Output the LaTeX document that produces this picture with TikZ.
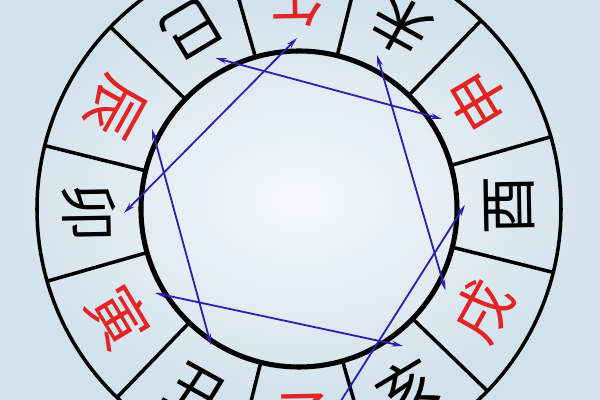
\documentclass[tikz,border=0pt]{standalone}
\usepackage{fontspec}
\newfontfamily\cjk{Noto Sans CJK SC}
\usetikzlibrary{arrows.meta}

\definecolor{poblue}{RGB}{48,32,170}
\definecolor{zhired}{RGB}{226,36,36}
\definecolor{paper}{RGB}{210,226,236}
\definecolor{paperlight}{RGB}{246,249,251}

\tikzset{
  zhi/.style={font=\cjk\fontsize{42}{42}\selectfont, inner sep=0pt},
  yangzhi/.style={zhi, text=zhired},
  yinzhi/.style={zhi, text=black},
  divider/.style={line width=2.5pt},
  po/.style={arrows={Stealth[length=8pt,width=4pt]-Stealth[length=8pt,width=4pt]}, line width=1.3pt, draw=poblue}
}

\begin{document}
\begin{tikzpicture}[x=0.025cm,y=0.025cm]

\useasboundingbox (-299,-191) rectangle (301,209);
\clip (-299,-191) rectangle (301,209);

\coordinate (RingCenter) at (0,0);

	% paper
	\shade[inner color=paperlight, outer color=paper] (-299,-191) rectangle (301,209);

	% outer and inner ring
	\draw[line width=2.5pt] (RingCenter) circle (262);
	\draw[line width=3.6pt] (RingCenter) circle (158);

	% ring dividers
	\draw[divider] (16:158) -- (16:262);
	\draw[divider] (46:158) -- (46:262);
	\draw[divider] (76:158) -- (76:262);
	\draw[divider] (106:158) -- (106:262);
	\draw[divider] (136:158) -- (136:262);
	\draw[divider] (166:158) -- (166:262);
	\draw[divider] (196:158) -- (196:262);
	\draw[divider] (226:158) -- (226:262);
	\draw[divider] (256:158) -- (256:262);
	\draw[divider] (286:158) -- (286:262);
	\draw[divider] (316:158) -- (316:262);
	\draw[divider] (346:158) -- (346:262);

	% twelve branches, tops toward the centre
	\node[yangzhi, rotate=181] (Wu)   at (91:210)  {午};
	\node[yinzhi,  rotate=151] (Wei)  at (61:210)  {未};
	\node[yangzhi, rotate=121] (Shen) at (31:210)  {申};
	\node[yinzhi,  rotate=91]  (You)  at (1:210)   {酉};
	\node[yangzhi, rotate=61]  (Xu)   at (-29:210) {戌};
	\node[yinzhi,  rotate=31]  (Hai)  at (-59:210) {亥};
	\node[yangzhi, rotate=1]   (Zi)   at (-89:210) {子};
	\node[yinzhi,  rotate=-29] (Chou) at (-119:210) {丑};
	\node[yangzhi, rotate=-59] (Yin)  at (-149:210) {寅};
	\node[yinzhi,  rotate=-89] (Mao)  at (181:210) {卯};
	\node[yangzhi, rotate=-119] (Chen) at (151:210) {辰};
	\node[yinzhi,  rotate=-149] (Si)  at (121:210) {巳};

	% arrow ends
	\coordinate (WuTip)   at (-2,171);
	\coordinate (MaoTip)  at (-175,-4);
	\coordinate (SiTip)   at (-83.5,151);
	\coordinate (ShenTip) at (143,90);
	\coordinate (WeiTip)  at (78,154);
	\coordinate (XuTip)   at (146.5,-81.5);
	\coordinate (ChenTip) at (-147,80);
	\coordinate (ChouTip) at (-88,-136);
	\coordinate (YinTip)  at (-144,-84);
	\coordinate (HaiTip)  at (104,-137);
	\coordinate (YouTip)  at (166,4);
	\coordinate (ZiTip)   at (33,-206);

	% six pairs
	\draw[po] (WuTip) -- (MaoTip);
	\draw[po] (SiTip) -- (ShenTip);
	\draw[po] (WeiTip) -- (XuTip);
	\draw[po] (ChenTip) -- (ChouTip);
	\draw[po] (YinTip) -- (HaiTip);
	\draw[po] (YouTip) -- (ZiTip);

\end{tikzpicture}
\end{document}
